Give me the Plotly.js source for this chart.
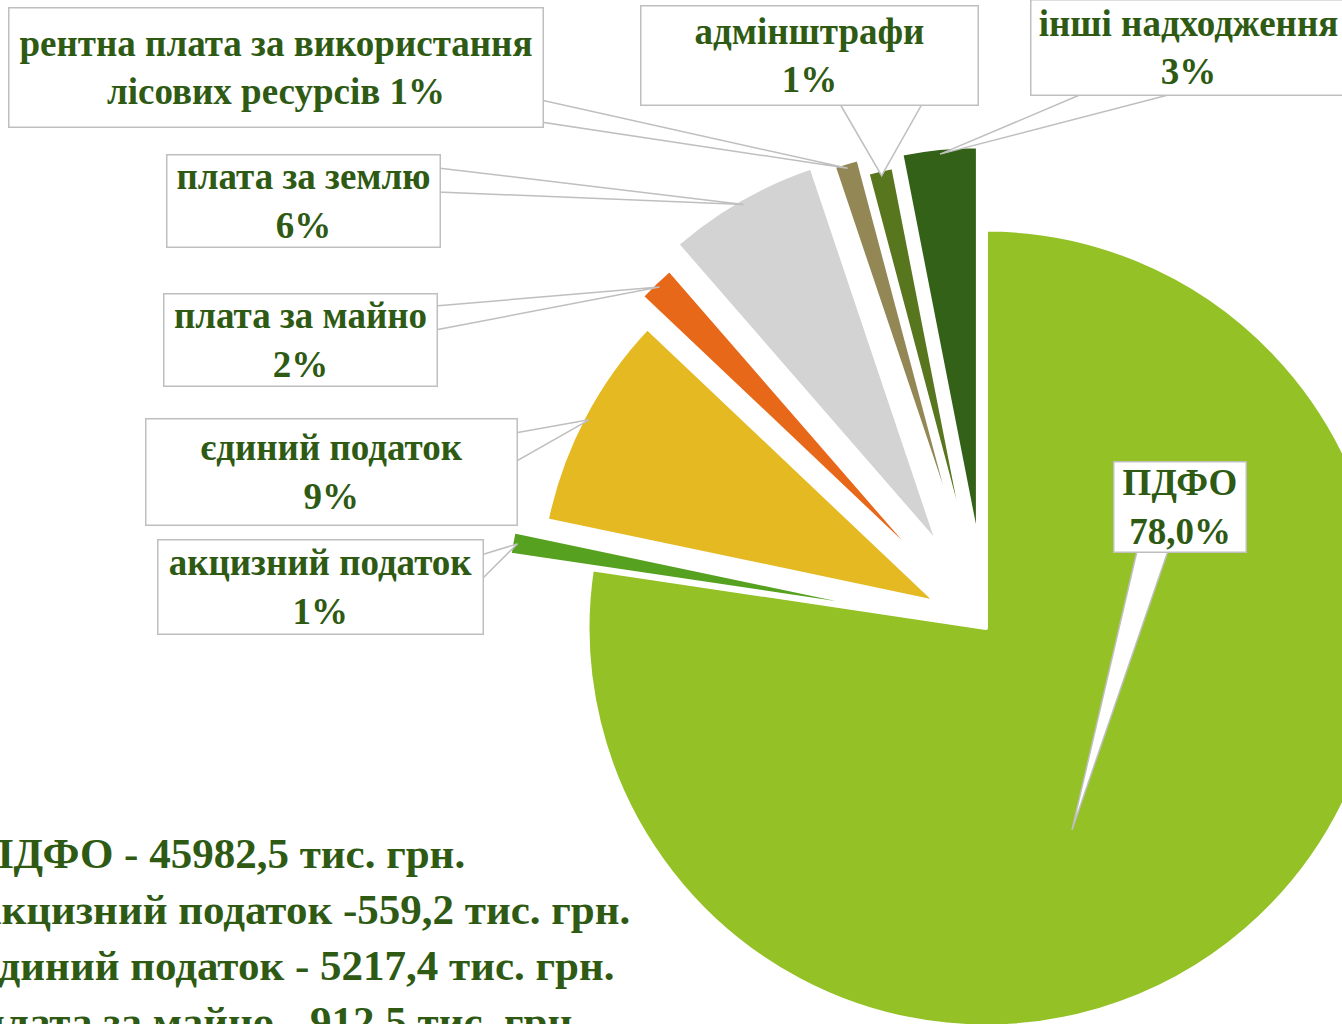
<!DOCTYPE html>
<html>
<head>
<meta charset="utf-8">
<script src="https://cdn.plot.ly/plotly-3.0.1.min.js"></script>
<style>
  html, body { margin: 0; padding: 0; overflow: hidden; background: #fff; }
  #chart { width: 1480px; height: 1256px; }
</style>
</head>
<body>
<div id="chart"></div>
<script>
// Надходження бюджету, тис. грн.
var labels = ['ПДФО', 'акцизний податок', 'єдиний податок', 'плата за майно',
              'плата за землю', 'рентна плата за використання<br>лісових ресурсів',
              'адмінштрафи', 'інші надходження'];
var values = [45982.5, 559.2, 5217.4, 912.5, 3700, 610, 630, 1830];
var pctText = ['78,0%', '1%', '9%', '2%', '6%', '1%', '1%', '3%'];
var summaryNames = ['ПДФО', 'акцизний податок', 'єдиний податок', 'плата за майно'];
var summarySep = [' - ', ' -', ' - ', ' - '];

var colors = ['#93C126', '#57A121', '#E4B921', '#E8681A', '#D3D3D3', '#938755', '#58761D', '#336117'];
var pulls = [0, 0.21, 0.14, 0.20, 0.24, 0.22, 0.18, 0.21];

var W = 1480, H = 1256;
var dom = { x: [0.3324, 1], y: [0, 1] };
var textColor = '#2E5A14';
var boxLine = '#BFBFBF';
var serif = 'Liberation Serif, Times New Roman, serif';

// label boxes: centre x, centre y, width, height (px); wedge base points
var boxes = [
  { cx: 1179.5, cy: 507.5, w: 133, h: 91, base: [[1137, 551], [1168, 551]] },
  { cx: 320, cy: 587.5, w: 326, h: 95, base: [[481, 555], [481, 580]] },
  { cx: 331, cy: 471.5, w: 372, h: 107, base: [[515, 433], [515, 462]] },
  { cx: 300, cy: 339.5, w: 274, h: 93, base: [[435, 306], [435, 330]] },
  { cx: 303, cy: 201.5, w: 274, h: 93, base: [[438, 168], [438, 192]] },
  { cx: 275.5, cy: 68, w: 535, h: 120, base: [[541, 100], [541, 122]] },
  { cx: 810, cy: 56, w: 338, h: 100, base: [[840, 104], [922, 104]] },
  { cx: 1188, cy: 48, w: 316, h: 96, base: [[1082, 94], [1172, 94]] }
];

function px(x) { return x / W; }
function py(y) { return 1 - y / H; }

// geometry of the pie, same rules Plotly uses to size it
var maxPull = Math.max.apply(null, pulls);
var pcx = W * (dom.x[0] + dom.x[1]) / 2;
var pcy = H * (1 - (dom.y[0] + dom.y[1]) / 2);
var R = Math.min(W * (dom.x[1] - dom.x[0]), H * (dom.y[1] - dom.y[0])) / 2 / (1 + maxPull);
var total = values.reduce(function (a, b) { return a + b; }, 0);

var cum = 0;
var tips = values.map(function (v, i) {
  var mid = (cum + v / 2) / total * 2 * Math.PI;
  cum += v;
  var d = R * (pulls[i] + 0.985);
  return [pcx + Math.sin(mid) * d, pcy - Math.cos(mid) * d];
});
// ПДФО pointer ends inside its own slice
tips[0] = [1072, 830];

var shapes = [];
var annotations = [];
boxes.forEach(function (b, i) {
  var t = tips[i];
  shapes.push({
    type: 'path', xref: 'paper', yref: 'paper', layer: 'above',
    path: 'M' + px(b.base[0][0]) + ',' + py(b.base[0][1]) +
          ' L' + px(t[0]) + ',' + py(t[1]) +
          ' L' + px(b.base[1][0]) + ',' + py(b.base[1][1]) + ' Z',
    fillcolor: '#fff', line: { color: boxLine, width: 1.5 }
  });
  var txt = labels[i].indexOf('<br>') >= 0 ? labels[i] + ' ' + pctText[i] : labels[i] + '<br>' + pctText[i];
  annotations.push({
    xref: 'paper', yref: 'paper', x: px(b.cx), y: py(b.cy),
    xanchor: 'center', yanchor: 'middle', showarrow: false,
    text: txt, align: 'center', valign: 'middle',
    width: b.w - 2, height: b.h - 2, borderpad: 0,
    bgcolor: '#fff', bordercolor: boxLine, borderwidth: 1.5,
    font: { family: serif, size: 37, color: textColor, weight: 700 }
  });
});

var summary = summaryNames.map(function (n, i) {
  return n + summarySep[i] + String(values[i]).replace('.', ',') + ' тис. грн.';
});
annotations.push({
  xref: 'paper', yref: 'paper', x: px(-22), y: py(828),
  xanchor: 'left', yanchor: 'top', showarrow: false, align: 'left',
  text: summary.join('<br>'),
  font: { family: serif, size: 43, color: textColor, weight: 700 }
});

var data = [{
  type: 'pie',
  labels: labels,
  values: values,
  sort: false,
  direction: 'clockwise',
  rotation: 0,
  pull: pulls,
  textinfo: 'none',
  hoverinfo: 'skip',
  domain: dom,
  marker: { colors: colors, line: { color: '#fff', width: 4 } }
}];

var layout = {
  width: W, height: H,
  margin: { l: 0, r: 0, t: 0, b: 0 },
  showlegend: false,
  paper_bgcolor: '#fff',
  shapes: shapes,
  annotations: annotations
};

Plotly.newPlot('chart', data, layout, { staticPlot: true });
</script>
</body>
</html>
